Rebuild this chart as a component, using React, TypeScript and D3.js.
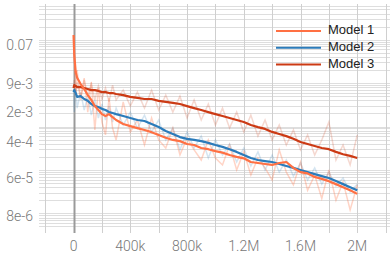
import React from 'react'
import * as d3 from 'd3'

// training steps (shared by all runs)
const steps = [
  0, 5000, 15000, 25000, 50000, 75000, 100000, 125000, 150000, 175000, 200000,
  225000, 250000, 275000, 300000, 350000, 400000, 450000, 500000, 550000,
  600000, 650000, 700000, 750000, 800000, 850000, 900000, 950000, 1000000,
  1050000, 1100000, 1150000, 1200000, 1250000, 1300000, 1350000, 1400000,
  1450000, 1500000, 1550000, 1600000, 1650000, 1700000, 1750000, 1800000,
  1850000, 1900000, 1950000, 2000000,
]

// smoothed loss
const model1 = [
  0.128, 0.045, 0.018, 0.0133, 9.5e-3, 7.3e-3, 5.3e-3, 4.1e-3, 2.95e-3, 2.4e-3,
  1.93e-3, 1.74e-3, 1.93e-3, 1.65e-3, 1.41e-3, 1.14e-3, 1.02e-3, 9.2e-4, 8.3e-4,
  7.4e-4, 6.4e-4, 5.5e-4, 4.9e-4, 4.6e-4, 3.95e-4, 3.75e-4, 3.2e-4, 3.0e-4,
  2.7e-4, 2.5e-4, 2.2e-4, 2.0e-4, 1.85e-4, 1.52e-4, 1.44e-4, 1.37e-4, 1.3e-4,
  1.44e-4, 1.52e-4, 1.11e-4, 8.9e-5, 8.3e-5, 6.9e-5, 6.2e-5, 5.5e-5, 4.7e-5,
  4.0e-5, 3.4e-5, 2.8e-5,
]
const model2 = [
  6.2e-3, 6.9e-3, 5.9e-3, 4.8e-3, 5.0e-3, 4.3e-3, 3.9e-3, 3.3e-3, 2.95e-3,
  2.8e-3, 2.55e-3, 2.4e-3, 2.15e-3, 2.05e-3, 1.93e-3, 1.74e-3, 1.57e-3, 1.41e-3,
  1.34e-3, 1.14e-3, 9.7e-4, 7.9e-4, 6.7e-4, 5.7e-4, 5.2e-4, 4.9e-4, 4.6e-4,
  4.2e-4, 3.75e-4, 3.4e-4, 3.0e-4, 2.6e-4, 2.2e-4, 1.88e-4, 1.69e-4, 1.6e-4,
  1.52e-4, 1.37e-4, 1.23e-4, 1.11e-4, 9.95e-5, 8.9e-5, 8.0e-5, 7.2e-5, 6.5e-5,
  5.55e-5, 4.7e-5, 4.0e-5, 3.4e-5,
]
const model3 = [
  7.7e-3, 9.0e-3, 8.6e-3, 8.1e-3, 8.1e-3, 7.7e-3, 7.3e-3, 6.9e-3, 6.9e-3,
  6.6e-3, 6.2e-3, 6.2e-3, 5.9e-3, 5.9e-3, 5.6e-3, 5.3e-3, 4.8e-3, 4.55e-3,
  4.3e-3, 4.3e-3, 3.9e-3, 3.7e-3, 3.5e-3, 3.3e-3, 2.95e-3, 2.65e-3, 2.4e-3,
  2.15e-3, 1.93e-3, 1.74e-3, 1.57e-3, 1.41e-3, 1.27e-3, 1.08e-3, 9.7e-4, 8.8e-4,
  7.5e-4, 6.7e-4, 6.0e-4, 5.2e-4, 4.4e-4, 3.95e-4, 3.55e-4, 3.2e-4, 3.0e-4,
  2.6e-4, 2.3e-4, 2.1e-4, 1.88e-4,
]

// raw (unsmoothed) loss
const model1Raw = [
  0.122, 0.031, 5.3e-3, 0.02, 4.1e-3, 0.0131, 2.15e-3, 0.0106, 8.3e-4, 7.7e-3,
  1.27e-3, 6.4e-4, 4.55e-3, 9.2e-4, 4.9e-4, 3.7e-3, 7.5e-4, 1.41e-3, 3.75e-4,
  1.57e-3, 4.9e-4, 3.2e-4, 9.2e-4, 2.2e-4, 5.4e-4, 2.9e-4, 1.69e-4, 4.9e-4,
  1.88e-4, 1.3e-4, 3.75e-4, 9.95e-5, 2.6e-4, 7.6e-5, 1.88e-4, 1.11e-4, 5.85e-5,
  2.9e-4, 8.9e-5, 4.5e-5, 1.52e-4, 3.4e-5, 7.6e-5, 2.2e-5, 9.95e-5, 2.0e-5,
  5.3e-5, 1.2e-5, 4.5e-5,
]
const model2Raw = [
  6.2e-3, 2.15e-3, 7.7e-3, 2.65e-3, 6.2e-3, 2.4e-3, 5.0e-3, 1.83e-3, 4.1e-3,
  1.57e-3, 3.3e-3, 1.41e-3, 2.95e-3, 1.27e-3, 2.65e-3, 1.08e-3, 2.15e-3, 9.2e-4,
  1.83e-3, 7.5e-4, 1.41e-3, 4.9e-4, 9.2e-4, 2.9e-4, 7.5e-4, 3.2e-4, 6.0e-4,
  1.88e-4, 4.9e-4, 2.2e-4, 3.95e-4, 1.52e-4, 3.2e-4, 1.23e-4, 2.6e-4, 9.95e-5,
  2.2e-4, 8.9e-5, 1.69e-4, 7.2e-5, 1.44e-4, 5.85e-5, 1.11e-4, 4.7e-5, 8.9e-5,
  4.25e-5, 6.5e-5, 3.1e-5, 4.7e-5,
]
const model3Raw = [
  7.7e-3, 0.0118, 5.3e-3, 0.0106, 4.55e-3, 0.0118, 5.0e-3, 9.5e-3, 4.1e-3,
  8.6e-3, 4.3e-3, 7.7e-3, 3.7e-3, 9.0e-3, 4.1e-3, 6.9e-3, 2.95e-3, 6.2e-3,
  2.65e-3, 6.9e-3, 2.4e-3, 5.3e-3, 2.15e-3, 5.0e-3, 1.57e-3, 4.1e-3, 1.41e-3,
  3.3e-3, 1.08e-3, 2.65e-3, 9.2e-4, 2.15e-3, 7.5e-4, 1.83e-3, 6.0e-4, 1.41e-3,
  4.9e-4, 1.08e-3, 3.75e-4, 8.3e-4, 2.9e-4, 6.4e-4, 2.2e-4, 4.9e-4, 1.27e-3,
  1.69e-4, 3.75e-4, 1.3e-4, 6.4e-4,
]

const xTicks = [0, 400000, 800000, 1200000, 1600000, 2000000]
const xTickLabels = ['0', '400k', '800k', '1.2M', '1.6M', '2M']
const yTicks = [0.07, 9e-3, 2e-3, 4e-4, 6e-5, 8e-6]
const yTickLabels = ['0.07', '9e-3', '2e-3', '4e-4', '6e-5', '8e-6']

const colors = { m1: '#ff7043', m2: '#2b7bba', m3: '#cc3a14' }

const series = [
  { name: 'Model 2', values: model2, raw: model2Raw, color: colors.m2, rawOpacity: 0.2 },
  { name: 'Model 3', values: model3, raw: model3Raw, color: colors.m3, rawOpacity: 0.2 },
  { name: 'Model 1', values: model1, raw: model1Raw, color: colors.m1, rawOpacity: 0.3 },
]
const legend = [
  { name: 'Model 1', color: colors.m1 },
  { name: 'Model 2', color: colors.m2 },
  { name: 'Model 3', color: colors.m3 },
]

export default function App() {
  const width = 390
  const height = 257
  const plot = { left: 45, right: 390, top: 4, bottom: 228 }

  const x = d3.scaleLinear().domain([-200000, 2200000]).range([45.2, 385.6])
  const y = d3.scaleLog().domain([1e-5, 0.1]).range([213.3, 39.7])

  const xGrid = d3.range(-200000, 2200001, 200000)
  const yGrid: number[] = []
  for (let e = -7; e <= 0; e++) {
    for (let k = 1; k <= 9; k++) {
      const v = k * Math.pow(10, e)
      const py = y(v)
      if (py >= plot.top && py <= plot.bottom) yGrid.push(v)
    }
  }

  const line = d3
    .line<number>()
    .x((_, i) => x(steps[i]))
    .y(d => y(d))

  const tickFont = 'Roboto, "Liberation Sans", sans-serif'

  return (
    <svg
      width={width}
      height={height}
      style={{ position: 'absolute', left: 0, top: 0, background: '#fff' }}
    >
      <defs>
        <clipPath id='plot-clip'>
          <rect
            x={plot.left}
            y={plot.top}
            width={plot.right - plot.left}
            height={plot.bottom - plot.top}
          />
        </clipPath>
      </defs>
      <g>
        {yGrid.map(v => (
          <line
            key={'h' + v}
            x1={39}
            x2={plot.right}
            y1={Math.round(y(v)) + 0.5}
            y2={Math.round(y(v)) + 0.5}
            stroke='#dedede'
            strokeWidth={1}
          />
        ))}
        {xGrid.map(s => (
          <line
            key={'v' + s}
            x1={Math.round(x(s)) + 0.5}
            x2={Math.round(x(s)) + 0.5}
            y1={plot.top}
            y2={233}
            stroke={s === 0 ? '#9a9a9a' : '#cfcfcf'}
            strokeWidth={s === 0 ? 2 : 1}
          />
        ))}
      </g>
      <g clipPath='url(#plot-clip)' fill='none'>
        {series.map(s => (
          <path
            key={s.name + '-raw'}
            d={line(s.raw) || ''}
            stroke={s.color}
            strokeOpacity={s.rawOpacity}
            strokeWidth={1.5}
          />
        ))}
        {series.map(s => (
          <path
            key={s.name}
            d={line(s.values) || ''}
            stroke={s.color}
            strokeWidth={2.2}
            strokeLinejoin='round'
          />
        ))}
      </g>
      <g fontFamily={tickFont} fontWeight={300} fontSize={14} fill='#777'>
        {yTicks.map((v, i) => (
          <text key={v} x={33} y={y(v)} textAnchor='end' dominantBaseline='middle'>
            {yTickLabels[i]}
          </text>
        ))}
        {xTicks.map((s, i) => (
          <text key={s} x={x(s)} y={251} textAnchor='middle'>
            {xTickLabels[i]}
          </text>
        ))}
      </g>
      <g fontFamily='"Liberation Sans", Arial, sans-serif' fontSize={13} fill='#222'>
        {legend.map((l, i) => (
          <g key={l.name} transform={`translate(276, ${31 + i * 16.7})`}>
            <line x1={0} x2={45} y1={0} y2={0} stroke={l.color} strokeWidth={2} />
            <text x={52} y={0} dominantBaseline='middle'>
              {l.name}
            </text>
          </g>
        ))}
      </g>
    </svg>
  )
}
